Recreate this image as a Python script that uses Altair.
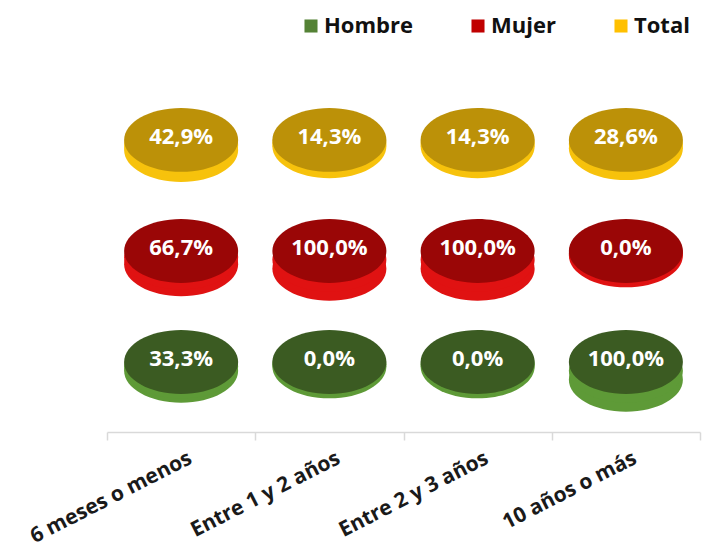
import altair as alt
import pandas as pd

categories = ["6 meses o menos", "Entre 1 y 2 años", "Entre 2 y 3 años", "10 años o más"]
series = ["Hombre", "Mujer", "Total"]
hombre = [33.3, 0.0, 0.0, 100.0]
mujer = [66.7, 100.0, 100.0, 0.0]
total = [42.9, 14.3, 14.3, 28.6]
row_index = {"Hombre": 1, "Mujer": 2, "Total": 3}
legend_colors = ["#548235", "#C00000", "#FFC000"]
top_colors = {"Hombre": "#3B5B22", "Mujer": "#9A0606", "Total": "#BC9108"}
side_colors = {"Hombre": "#5E9A37", "Mujer": "#E01212", "Total": "#F7C20C"}

rows = []
for s, vals in zip(series, [hombre, mujer, total]):
    for c, v in zip(categories, vals):
        rows.append({"cat": c, "series": s, "value": v, "row": row_index[s],
                     "topcol": top_colors[s], "sidecol": side_colors[s]})
df = pd.DataFrame(rows)

ellipse = "M -1 0 A 1 0.56 0 1 0 1 0 A 1 0.56 0 1 0 -1 0 Z"
SIZE = 13000

x_enc = alt.X("cat:N", sort=categories, scale=alt.Scale(paddingInner=0, paddingOuter=0),
              axis=alt.Axis(title=None, labelAngle=-27, labelAlign="right", labelBaseline="top",
                            labelFont="Open Sans", labelFontSize=21, labelFontWeight="bold",
                            labelColor="#1a1a1a", labelPadding=7, labelOffset=4, labelLimit=0,
                            tickBand="extent", tickColor="#d9d9d9", tickSize=8, tickWidth=1.5,
                            domainColor="#d9d9d9", domainWidth=1.5, grid=False))
y_scale = alt.Scale(domain=[0.369, 3.495], nice=False, zero=False)

base = alt.Chart(df)

# invisible layer only to produce the legend
legend_layer = base.mark_point(shape="square", filled=True, size=1, opacity=0).encode(
    x=x_enc,
    y=alt.Y("row:Q", scale=y_scale, axis=None),
    color=alt.Color("series:N", sort=series,
                    scale=alt.Scale(domain=series, range=legend_colors),
                    legend=alt.Legend(title=None, orient="none", legendX=193, legendY=-70,
                                      direction="horizontal", symbolType="square", symbolSize=170,
                                      symbolOpacity=1, symbolStrokeWidth=0,
                                      labelFont="Open Sans", labelFontSize=22,
                                      labelFontWeight="bold", labelColor="#111111",
                                      columnPadding=54, labelOffset=2, labelLimit=0)),
)

side = base.transform_calculate(
    yb="datum.row - 0.04 - datum.value*0.0012"
).mark_point(shape=ellipse, filled=True, size=SIZE, opacity=1).encode(
    x=x_enc,
    y=alt.Y("yb:Q", scale=y_scale, axis=None),
    fill=alt.Fill("sidecol:N", scale=None),
)

mid = base.transform_calculate(
    ym="datum.row - (0.04 + datum.value*0.0012)/2"
).mark_point(shape=ellipse, filled=True, size=SIZE, opacity=1).encode(
    x=x_enc,
    y=alt.Y("ym:Q", scale=y_scale, axis=None),
    fill=alt.Fill("sidecol:N", scale=None),
)

top = base.mark_point(shape=ellipse, filled=True, size=SIZE, opacity=1).encode(
    x=x_enc,
    y=alt.Y("row:Q", scale=y_scale, axis=None),
    fill=alt.Fill("topcol:N", scale=None),
)

labels = base.transform_calculate(
    lab="replace(format(datum.value, '.1f'), '.', ',') + '%'"
).mark_text(font="Open Sans", fontSize=22, fontWeight="bold", color="white", dy=-3).encode(
    x=x_enc,
    y=alt.Y("row:Q", scale=y_scale, axis=None),
    text="lab:N",
)

chart = alt.layer(legend_layer, side, mid, top, labels).properties(
    width=593, height=347,
    padding={"left": 107, "top": 85, "right": 13, "bottom": 117},
    autosize="none",
    background="white",
).configure_view(stroke=None)

chart.save("out.html", embed_options={"renderer": "svg", "actions": False})
